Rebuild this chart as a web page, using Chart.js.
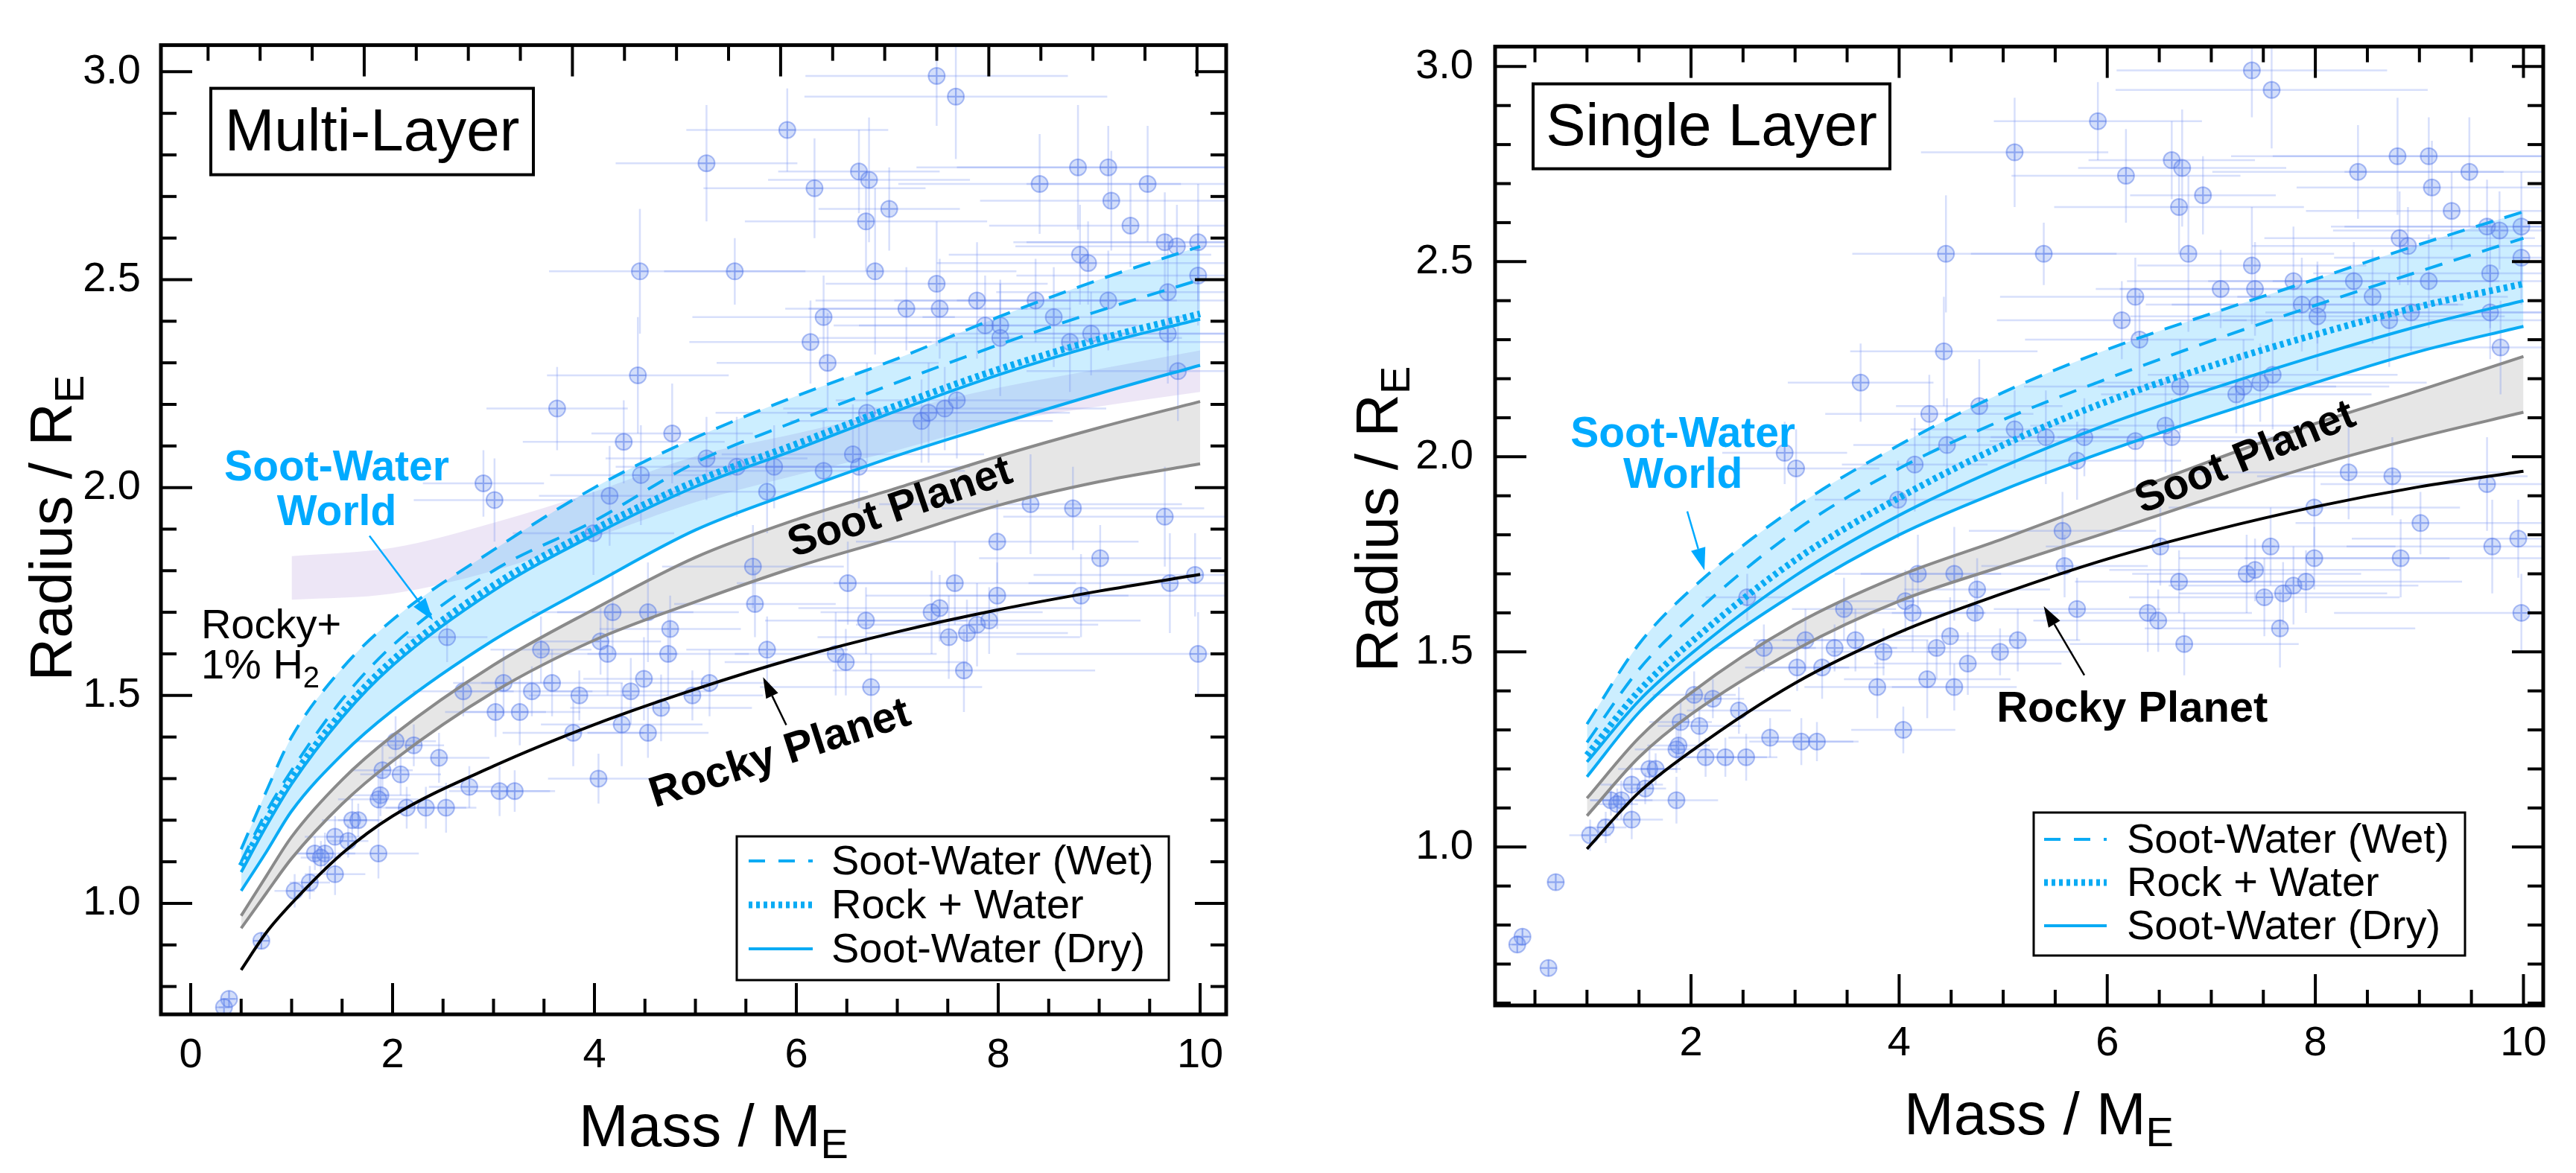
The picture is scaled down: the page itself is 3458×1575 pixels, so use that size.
<!DOCTYPE html>
<html>
<head>
<meta charset="utf-8">
<script src="https://cdn.jsdelivr.net/npm/chart.js@4"></script>
<style>
  html, body { margin: 0; padding: 0; background: #fff; }
  #wrap { position: relative; width: 3458px; height: 1575px; overflow: hidden; }
  #wrap canvas { position: absolute; top: 0; }
</style>
</head>
<body>
<div id="wrap">
  <canvas id="multi" width="1729" height="1575" style="left:0"></canvas>
  <canvas id="single" width="1729" height="1575" style="left:1729px"></canvas>
</div>
<script>
// ---- axes ----
const multiMassRange = [-0.295, 10.258];
const multiTopRange = [0.047, 10.28];     // the mirrored top axis is not quite the same as the bottom one
const multiRadiusRange = [0.733, 3.064];
const singleMassRange = [0.117, 10.19];
const singleRadiusRange = [0.594, 3.051];
const massTicksMulti = [0, 2, 4, 6, 8, 10];
const massTicksSingle = [2, 4, 6, 8, 10];
const radiusTicks = [1.0, 1.5, 2.0, 2.5, 3.0];

// ---- Multi-Layer model curves (mass in M_E, radius in R_E) ----
const mlMass = [0.5, 0.75, 1, 1.5, 2, 3, 4, 5, 6, 7, 8, 9, 10];
const mlRocky = [0.84, 0.93, 1.0, 1.12, 1.21, 1.33, 1.43, 1.515, 1.59, 1.653, 1.706, 1.751, 1.791];
const mlSootUpper = [0.97, 1.066, 1.16, 1.297, 1.403, 1.573, 1.708, 1.832, 1.923, 1.999, 2.075, 2.144, 2.207];
const mlSootLower = [0.94, 1.025, 1.108, 1.239, 1.342, 1.508, 1.633, 1.725, 1.809, 1.881, 1.957, 2.014, 2.057];
const mlDryLower = [1.03, 1.124, 1.222, 1.358, 1.464, 1.633, 1.769, 1.898, 1.991, 2.077, 2.153, 2.226, 2.294];
const mlDryUpper = [1.075, 1.186, 1.287, 1.447, 1.572, 1.752, 1.887, 2.002, 2.092, 2.185, 2.271, 2.344, 2.405];
const mlRockWater = [1.09, 1.20, 1.30, 1.46, 1.585, 1.765, 1.90, 2.015, 2.105, 2.198, 2.284, 2.357, 2.418];
const mlWetLower = [1.10, 1.22, 1.32, 1.49, 1.62, 1.80, 1.92, 2.06, 2.16, 2.253, 2.343, 2.425, 2.50];
const mlWetUpper = [1.13, 1.27, 1.40, 1.565, 1.682, 1.85, 2.0, 2.12, 2.22, 2.31, 2.41, 2.50, 2.58];
const mlH2Mass = [1, 2, 3, 4, 5, 6, 7, 8, 9, 10];
const mlH2Upper = [1.835, 1.855, 1.915, 1.99, 2.075, 2.13, 2.185, 2.24, 2.285, 2.33];
const mlH2Lower = [1.73, 1.745, 1.80, 1.88, 1.965, 2.03, 2.09, 2.155, 2.195, 2.23];

// ---- Single Layer model curves ----
const slMass = [1, 1.5, 2, 3, 4, 5, 6, 7, 8, 9, 10];
const slRocky = [0.995, 1.14, 1.245, 1.42, 1.55, 1.65, 1.738, 1.81, 1.872, 1.923, 1.963];
const slSootUpper = [1.125, 1.28, 1.395, 1.57, 1.695, 1.79, 1.89, 1.99, 2.085, 2.17, 2.257];
const slSootLower = [1.08, 1.23, 1.34, 1.505, 1.63, 1.72, 1.806, 1.895, 1.978, 2.05, 2.114];
const slDryLower = [1.18, 1.345, 1.465, 1.65, 1.80, 1.915, 2.015, 2.105, 2.19, 2.27, 2.334];
const slDryUpper = [1.218, 1.375, 1.495, 1.695, 1.85, 1.975, 2.083, 2.174, 2.258, 2.335, 2.40];
const slRockWater = [1.235, 1.40, 1.525, 1.735, 1.895, 2.03, 2.142, 2.233, 2.313, 2.385, 2.443];
const slWetLower = [1.268, 1.455, 1.59, 1.81, 1.97, 2.095, 2.20, 2.297, 2.388, 2.475, 2.56];
const slWetUpper = [1.315, 1.52, 1.66, 1.87, 2.03, 2.165, 2.275, 2.367, 2.455, 2.544, 2.628];

// ---- observed planets (same set in both panels) ----
const planetMass = [
  7.39, 7.58, 5.91, 5.11, 6.18, 6.62, 6.72, 6.69, 6.92, 8.41, 8.79, 9.09, 9.12, 9.48, 9.31,
  4.45, 5.39, 6.78, 9.65, 9.77, 9.98, 8.81, 8.89, 9.98, 7.39, 7.09, 7.42, 7.79, 8.37, 9.09,
  9.68, 6.27, 7.87, 8.02, 8.55, 8.02, 9.68, 6.14, 8.71, 8.92, 6.31, 9.78, 4.43, 3.63, 6.70,
  7.24, 7.31, 7.47, 7.59, 4.29, 4.77, 4.46, 2.90, 3.01, 4.15, 5.11, 5.41, 5.78, 6.56, 6.62,
  6.27, 5.71, 8.32, 8.74, 9.65, 3.99, 7.99, 9.01, 5.57, 4.18, 4.53, 5.59, 6.51, 7.57, 7.99,
  8.82, 9.70, 9.95, 6.69, 7.34, 7.42, 7.79, 7.91, 7.51, 7.69, 4.75, 4.73, 4.06, 4.13, 3.47,
  5.71, 6.39, 6.49, 7.66, 6.74, 9.98, 2.54, 2.70, 3.10, 3.38, 3.58, 4.36, 4.49, 4.66, 4.97,
  5.14, 3.85, 3.02, 3.26, 3.79, 4.27, 4.53, 4.04, 2.76, 3.06, 3.21, 2.03, 2.21, 1.90, 2.08,
  2.46, 1.88, 1.86, 2.14, 2.33, 2.53, 1.60, 1.66, 1.43, 1.56, 1.23, 1.33, 1.29, 1.43, 1.86,
  1.03, 1.18, 0.70, 0.38, 0.33, 0.63
];
const planetRadius = [
  2.99, 2.94, 2.86, 2.78, 2.72, 2.76, 2.74, 2.64, 2.67, 2.73, 2.77, 2.77, 2.69, 2.73, 2.63,
  2.52, 2.52, 2.52, 2.59, 2.58, 2.59, 2.56, 2.54, 2.51, 2.49, 2.43, 2.43, 2.45, 2.45, 2.45,
  2.47, 2.41, 2.39, 2.39, 2.41, 2.36, 2.37, 2.35, 2.35, 2.37, 2.30, 2.28, 2.27, 2.19, 2.18,
  2.16, 2.18, 2.19, 2.21, 2.11, 2.13, 2.03, 2.01, 1.97, 1.98, 2.07, 2.05, 2.05, 2.08, 2.05,
  2.04, 1.99, 1.96, 1.95, 1.93, 1.89, 1.87, 1.83, 1.81, 1.70, 1.70, 1.72, 1.77, 1.77, 1.74,
  1.74, 1.77, 1.79, 1.68, 1.70, 1.71, 1.67, 1.68, 1.64, 1.65, 1.66, 1.60, 1.63, 1.60, 1.61,
  1.61, 1.60, 1.58, 1.56, 1.52, 1.60, 1.64, 1.51, 1.53, 1.51, 1.53, 1.51, 1.54, 1.47, 1.50,
  1.53, 1.50, 1.46, 1.46, 1.41, 1.43, 1.41, 1.30, 1.28, 1.27, 1.27, 1.39, 1.38, 1.32, 1.31,
  1.35, 1.26, 1.25, 1.23, 1.23, 1.23, 1.20, 1.20, 1.16, 1.15, 1.12, 1.12, 1.11, 1.07, 1.12,
  1.03, 1.05, 0.91, 0.77, 0.75, 0.69
];
const planetMassErr = [
  1.3, 1.5, 1.0, 0.9, 1.1, 0.8, 1.0, 1.2, 0.7, 1.4, 1.6, 1.5, 1.3, 1.2, 1.4,
  0.9, 0.7, 1.4, 1.5, 1.6, 1.7, 1.3, 1.5, 1.8, 1.1, 1.2, 1.3, 1.6, 1.4, 1.5,
  1.7, 1.3, 1.5, 1.4, 1.3, 1.8, 1.6, 1.2, 1.6, 1.4, 1.1, 1.5, 0.9, 0.7, 1.5,
  1.3, 1.4, 1.6, 1.2, 1.0, 0.8, 0.9, 0.6, 0.8, 0.7, 1.0, 1.2, 0.9, 1.3, 1.1,
  1.4, 1.0, 1.5, 1.3, 1.6, 0.8, 1.4, 1.2, 0.9, 0.8, 0.9, 0.8, 1.1, 1.2, 1.3,
  1.5, 1.4, 1.6, 1.0, 1.1, 1.4, 1.2, 1.5, 1.3, 1.0, 0.7, 0.8, 0.6, 0.7, 0.5,
  0.8, 1.0, 1.2, 1.3, 1.1, 1.8, 0.4, 0.5, 0.5, 0.6, 0.7, 0.8, 0.6, 0.9, 0.7,
  0.6, 0.5, 0.5, 0.6, 0.7, 0.8, 0.6, 0.5, 0.4, 0.5, 0.4, 0.4, 0.3, 0.3, 0.4,
  0.5, 0.3, 0.4, 0.3, 0.4, 0.3, 0.3, 0.2, 0.3, 0.2, 0.2, 0.3, 0.2, 0.3, 0.4,
  0.2, 0.2, 0.08, 0.06, 0.05, 0.08
];
const planetRadiusErr = [
  0.12, 0.15, 0.10, 0.14, 0.12, 0.10, 0.15, 0.12, 0.10, 0.12, 0.15, 0.10, 0.12, 0.14, 0.10,
  0.15, 0.08, 0.20, 0.12, 0.10, 0.14, 0.12, 0.10, 0.12, 0.15, 0.10, 0.12, 0.14, 0.10, 0.12,
  0.14, 0.10, 0.12, 0.10, 0.12, 0.14, 0.12, 0.10, 0.12, 0.10, 0.12, 0.12, 0.14, 0.10, 0.12,
  0.10, 0.12, 0.10, 0.14, 0.10, 0.12, 0.12, 0.08, 0.10, 0.12, 0.10, 0.12, 0.10, 0.12, 0.10,
  0.12, 0.10, 0.12, 0.10, 0.12, 0.10, 0.10, 0.08, 0.10, 0.10, 0.12, 0.08, 0.10, 0.10, 0.08,
  0.10, 0.12, 0.10, 0.08, 0.10, 0.08, 0.10, 0.08, 0.10, 0.08, 0.08, 0.10, 0.08, 0.10, 0.08,
  0.08, 0.10, 0.08, 0.10, 0.08, 0.10, 0.06, 0.06, 0.08, 0.06, 0.08, 0.08, 0.10, 0.08, 0.06,
  0.08, 0.06, 0.06, 0.08, 0.08, 0.10, 0.06, 0.06, 0.05, 0.06, 0.05, 0.06, 0.05, 0.06, 0.05,
  0.06, 0.05, 0.06, 0.05, 0.05, 0.06, 0.05, 0.04, 0.05, 0.04, 0.04, 0.05, 0.04, 0.05, 0.06,
  0.04, 0.04, 0.02, 0.02, 0.02, 0.02
];

const FONT = '"Liberation Sans", Arial, Helvetica, sans-serif';
const BLUE = '#0AABF4';
const LABEL_BLUE = '#00AAFF';
const GRAY = '#8a8a8a';

const legendRows = [
  { text: 'Soot-Water (Wet)', dash: [22, 18], width: 4 },
  { text: 'Rock + Water', dash: [5, 5], width: 9 },
  { text: 'Soot-Water (Dry)', dash: [], width: 4 }
];

// layout of each panel, in canvas pixels or in data units (m, r)
const panels = {
  multi: {
    area: { left: 216, top: 42, right: 1646, bottom: 1362 },
    massRange: multiMassRange, topRange: multiTopRange, radiusRange: multiRadiusRange,
    massTicks: massTicksMulti, tickPad: { x: 22, y: 27 },
    title: 'Multi-Layer', titleBox: { dx: 67, dy: 58, w: 433, h: 116 },
    yTitle: { x: 96, y: 709 }, xTitle: { x: 958, y: 1539 },
    worldLabel: { m: 1.447, r1: 2.017, r2: 1.909 }, worldArrow: [1.771, 1.884, 2.40, 1.681],
    h2Label: { m: 0.103, r1: 1.637, r2: 1.540 },
    sootLabel: { m: 7.03, r: 1.95, angle: -18.9 },
    rockyLabel: { m: 5.84, r: 1.358, angle: -18 },
    rockyArrow: [5.90, 1.429, 5.67, 1.544],
    legend: { dr: 77, db: 46, w: 580, h: 193, rows: [51, 110, 169], textX: 127, line: [16, 102] }
  },
  single: {
    area: { left: 278, top: 48, right: 1685, bottom: 1350 },
    massRange: singleMassRange, topRange: singleMassRange, radiusRange: singleRadiusRange,
    massTicks: massTicksSingle, tickPad: { x: 18, y: 29 },
    title: 'Single Layer', titleBox: { dx: 51, dy: 50, w: 479, h: 114 },
    yTitle: { x: 147, y: 697 }, xTitle: { x: 1008, y: 1523 },
    worldLabel: { m: 1.922, r1: 2.026, r2: 1.921 }, worldArrow: [1.964, 1.860, 2.129, 1.709],
    h2Label: null,
    sootLabel: { m: 7.33, r: 1.996, angle: -22.5 },
    rockyLabel: { m: 6.24, r: 1.351, angle: 0 },
    rockyArrow: [5.78, 1.44, 5.39, 1.617],
    legend: { dr: 105, db: 67, w: 579, h: 192, rows: [54, 112, 170], textX: 125, line: [14, 98] }
  }
};

function pts(xs, ys) {
  return xs.map((x, i) => ({ x: x, y: ys[i] }));
}

function buildDatasets(c) {
  const ds = [];
  const add = (d) => { ds.push(Object.assign({
    type: 'line', pointRadius: 0, fill: false, borderWidth: 4, clip: 0,
    cubicInterpolationMode: 'monotone', order: 2
  }, d)); return ds.length - 1; };

  if (c.h2Mass) {
    const lo = add({ data: pts(c.h2Mass, c.h2Lower), borderWidth: 0, borderColor: 'rgba(0,0,0,0)', order: 9 });
    add({ data: pts(c.h2Mass, c.h2Upper), borderWidth: 0, borderColor: 'rgba(0,0,0,0)',
          fill: { target: lo }, backgroundColor: 'rgba(175,140,215,0.22)', order: 9 });
  }
  const sootLo = add({ data: pts(c.mass, c.sootLower), borderColor: GRAY });
  add({ data: pts(c.mass, c.sootUpper), borderColor: GRAY, fill: { target: sootLo }, backgroundColor: '#e6e6e6' });
  const dryLo = add({ data: pts(c.mass, c.dryLower), borderColor: BLUE });
  add({ data: pts(c.mass, c.dryUpper), borderColor: BLUE });
  add({ data: pts(c.mass, c.rockWater), borderColor: BLUE, borderWidth: 9, borderDash: [5, 5], borderCapStyle: 'butt' });
  add({ data: pts(c.mass, c.wetLower), borderColor: BLUE, borderDash: [24, 16] });
  add({ data: pts(c.mass, c.wetUpper), borderColor: BLUE, borderDash: [24, 16],
        fill: { target: dryLo }, backgroundColor: 'rgba(0,170,255,0.2)' });
  add({ data: pts(c.mass, c.rocky), borderColor: '#000' });

  const planets = pts(planetMass, planetRadius);
  ds.push({ type: 'scatter', data: planets, pointStyle: 'circle', pointRadius: 11,
            backgroundColor: 'rgba(110,145,238,0.3)', borderColor: 'rgba(80,115,230,0.45)',
            borderWidth: 2, clip: 0, order: 5 });
  ds.push({ type: 'scatter', data: planets, pointStyle: 'cross', pointRadius: 11,
            borderColor: 'rgba(80,115,230,0.45)', borderWidth: 2, clip: 0, order: 5 });
  return ds;
}

// ---- drawing helpers ----
function setFont(ctx, size, bold) {
  ctx.font = (bold ? 'bold ' : '') + size + 'px ' + FONT;
}

function textWithSub(ctx, main, sub, x, y, size, subSize, drop, align) {
  setFont(ctx, size);
  const w1 = ctx.measureText(main).width;
  setFont(ctx, subSize);
  const w2 = ctx.measureText(sub).width;
  const x0 = align === 'center' ? x - (w1 + w2) / 2 : x;
  ctx.textAlign = 'left';
  ctx.textBaseline = 'alphabetic';
  setFont(ctx, size);
  ctx.fillText(main, x0, y);
  setFont(ctx, subSize);
  ctx.fillText(sub, x0 + w1, y + drop);
}

function arrow(ctx, x1, y1, x2, y2, color, lw, headLen, headW) {
  const a = Math.atan2(y2 - y1, x2 - x1);
  const bx = x2 - headLen * Math.cos(a), by = y2 - headLen * Math.sin(a);
  ctx.save();
  ctx.strokeStyle = color; ctx.fillStyle = color; ctx.lineWidth = lw; ctx.setLineDash([]);
  ctx.beginPath(); ctx.moveTo(x1, y1); ctx.lineTo(bx, by); ctx.stroke();
  ctx.beginPath();
  ctx.moveTo(x2, y2);
  ctx.lineTo(bx + headW / 2 * Math.sin(a), by - headW / 2 * Math.cos(a));
  ctx.lineTo(bx - headW / 2 * Math.sin(a), by + headW / 2 * Math.cos(a));
  ctx.closePath(); ctx.fill();
  ctx.restore();
}

function tickValues(min, max, step) {
  const out = [];
  for (let v = Math.ceil(min / step - 1e-9) * step; v <= max + 1e-9; v += step) out.push(Math.round(v * 1000) / 1000);
  return out;
}

function drawTicks(ctx, scale, area, side, majors, minorStep) {
  const minors = tickValues(scale.min, scale.max, minorStep).filter(v => !majors.some(m => Math.abs(m - v) < 1e-6));
  const draw = (v, len) => {
    const p = scale.getPixelForValue(v);
    ctx.beginPath();
    if (side === 'bottom') { ctx.moveTo(p, area.bottom); ctx.lineTo(p, area.bottom - len); }
    if (side === 'top') { ctx.moveTo(p, area.top); ctx.lineTo(p, area.top + len); }
    if (side === 'left') { ctx.moveTo(area.left, p); ctx.lineTo(area.left + len, p); }
    if (side === 'right') { ctx.moveTo(area.right, p); ctx.lineTo(area.right - len, p); }
    ctx.stroke();
  };
  majors.filter(v => v >= scale.min && v <= scale.max).forEach(v => draw(v, 42));
  minors.forEach(v => draw(v, 21));
}

const decor = {
  id: 'decor',
  beforeDatasetsDraw(chart) {
    // error bars under the markers
    const ctx = chart.ctx, xs = chart.scales.x, ys = chart.scales.y, a = chart.chartArea;
    ctx.save();
    ctx.beginPath(); ctx.rect(a.left, a.top, a.right - a.left, a.bottom - a.top); ctx.clip();
    ctx.strokeStyle = 'rgba(110,140,240,0.28)';
    ctx.lineWidth = 2.5;
    planetMass.forEach((m, i) => {
      const r = planetRadius[i];
      const px = xs.getPixelForValue(m), py = ys.getPixelForValue(r);
      ctx.beginPath();
      ctx.moveTo(xs.getPixelForValue(m - planetMassErr[i]), py);
      ctx.lineTo(xs.getPixelForValue(m + planetMassErr[i]), py);
      ctx.moveTo(px, ys.getPixelForValue(r - planetRadiusErr[i]));
      ctx.lineTo(px, ys.getPixelForValue(r + planetRadiusErr[i]));
      ctx.stroke();
    });
    ctx.restore();
  },
  afterDraw(chart) {
    const p = panels[chart.canvas.id];
    const ctx = chart.ctx, a = chart.chartArea;
    const xs = chart.scales.x, xt = chart.scales.xTop, ys = chart.scales.y;
    const X = (m) => xs.getPixelForValue(m), Y = (r) => ys.getPixelForValue(r);
    ctx.save();
    ctx.fillStyle = '#000'; ctx.strokeStyle = '#000';

    // frame and inward ticks
    ctx.lineWidth = 4;
    drawTicks(ctx, xs, a, 'bottom', p.massTicks, 0.5);
    drawTicks(ctx, xt, a, 'top', massTicksMulti, 0.5);
    drawTicks(ctx, ys, a, 'left', radiusTicks, 0.1);
    drawTicks(ctx, ys, a, 'right', radiusTicks, 0.1);
    ctx.lineWidth = 5;
    ctx.strokeRect(a.left, a.top, a.right - a.left, a.bottom - a.top);

    // axis titles
    textWithSub(ctx, 'Mass / M', 'E', p.xTitle.x, p.xTitle.y, 80, 56, 16, 'center');
    ctx.save();
    ctx.translate(p.yTitle.x, p.yTitle.y);
    ctx.rotate(-Math.PI / 2);
    textWithSub(ctx, 'Radius / R', 'E', 0, 0, 80, 56, 16, 'center');
    ctx.restore();

    // panel title box
    const tb = p.titleBox;
    ctx.lineWidth = 4;
    ctx.fillStyle = '#fff';
    ctx.fillRect(a.left + tb.dx, a.top + tb.dy, tb.w, tb.h);
    ctx.strokeRect(a.left + tb.dx, a.top + tb.dy, tb.w, tb.h);
    ctx.fillStyle = '#000';
    setFont(ctx, 80);
    ctx.textAlign = 'center'; ctx.textBaseline = 'middle';
    ctx.fillText(p.title, a.left + tb.dx + tb.w / 2, a.top + tb.dy + tb.h / 2 + 3);

    // Soot-Water World label and arrow
    ctx.fillStyle = LABEL_BLUE;
    setFont(ctx, 57, true);
    ctx.textAlign = 'center'; ctx.textBaseline = 'alphabetic';
    ctx.fillText('Soot-Water', X(p.worldLabel.m), Y(p.worldLabel.r1));
    ctx.fillText('World', X(p.worldLabel.m), Y(p.worldLabel.r2));
    const wa = p.worldArrow;
    arrow(ctx, X(wa[0]), Y(wa[1]), X(wa[2]), Y(wa[3]), LABEL_BLUE, 2.5, 30, 20);

    // Rocky + 1% H2 label
    ctx.fillStyle = '#000';
    if (p.h2Label) {
      setFont(ctx, 56);
      ctx.textAlign = 'left';
      ctx.fillText('Rocky+', X(p.h2Label.m), Y(p.h2Label.r1));
      textWithSub(ctx, '1% H', '2', X(p.h2Label.m), Y(p.h2Label.r2), 56, 40, 12, 'left');
    }

    // Soot Planet / Rocky Planet labels
    [[p.sootLabel, 'Soot Planet', 57], [p.rockyLabel, 'Rocky Planet', 58]].forEach(([l, txt, size]) => {
      ctx.save();
      ctx.translate(X(l.m), Y(l.r));
      ctx.rotate(l.angle * Math.PI / 180);
      setFont(ctx, size, true);
      ctx.textAlign = 'center'; ctx.textBaseline = 'middle';
      ctx.fillText(txt, 0, 0);
      ctx.restore();
    });
    const ra = p.rockyArrow;
    arrow(ctx, X(ra[0]), Y(ra[1]), X(ra[2]), Y(ra[3]), '#000', 2.5, 28, 18);

    // legend
    const lg = p.legend;
    const lx = a.right - lg.dr - lg.w, ly = a.bottom - lg.db - lg.h;
    ctx.fillStyle = '#fff';
    ctx.fillRect(lx, ly, lg.w, lg.h);
    ctx.lineWidth = 3; ctx.strokeStyle = '#000';
    ctx.strokeRect(lx, ly, lg.w, lg.h);
    legendRows.forEach((row, i) => {
      const by = ly + lg.rows[i];
      ctx.save();
      ctx.strokeStyle = BLUE; ctx.lineWidth = row.width; ctx.setLineDash(row.dash); ctx.lineCap = 'butt';
      ctx.beginPath(); ctx.moveTo(lx + lg.line[0], by - 18); ctx.lineTo(lx + lg.line[1], by - 18); ctx.stroke();
      ctx.restore();
      ctx.fillStyle = '#000';
      setFont(ctx, 56);
      ctx.textAlign = 'left'; ctx.textBaseline = 'alphabetic';
      ctx.fillText(row.text, lx + lg.textX, by);
    });
    ctx.restore();
  }
};

Chart.defaults.font.family = FONT;
Chart.defaults.color = '#000';

function makeChart(id, curves) {
  const p = panels[id];
  const canvas = document.getElementById(id);
  const W = canvas.width, H = canvas.height;
  return new Chart(canvas, {
    type: 'line',
    data: { datasets: buildDatasets(curves) },
    options: {
      responsive: false,
      animation: false,
      devicePixelRatio: 1,
      events: [],
      layout: { padding: { left: 0, top: p.area.top, right: W - p.area.right, bottom: 0 } },
      plugins: {
        legend: { display: false },
        tooltip: { enabled: false },
        filler: { drawTime: 'beforeDatasetsDraw' }
      },
      scales: {
        x: {
          type: 'linear', position: 'bottom', min: p.massRange[0], max: p.massRange[1],
          afterFit: (s) => { s.height = H - p.area.bottom; },
          afterBuildTicks: (s) => { s.ticks = p.massTicks.map(v => ({ value: v })); },
          ticks: { font: { size: 56 }, color: '#000', padding: p.tickPad.x, autoSkip: false,
                   maxRotation: 0, minRotation: 0, callback: (v) => String(v) },
          grid: { display: false, drawTicks: false, tickLength: 0 },
          border: { display: false }
        },
        xTop: {
          type: 'linear', position: 'top', display: false, min: p.topRange[0], max: p.topRange[1]
        },
        y: {
          type: 'linear', position: 'left', min: p.radiusRange[0], max: p.radiusRange[1],
          afterFit: (s) => { s.width = p.area.left; },
          afterBuildTicks: (s) => { s.ticks = radiusTicks.map(v => ({ value: v })); },
          ticks: { font: { size: 56 }, color: '#000', padding: p.tickPad.y, autoSkip: false,
                   callback: (v) => Number(v).toFixed(1) },
          grid: { display: false, drawTicks: false, tickLength: 0 },
          border: { display: false }
        }
      }
    },
    plugins: [decor]
  });
}

makeChart('multi', {
  mass: mlMass, rocky: mlRocky, sootUpper: mlSootUpper, sootLower: mlSootLower,
  dryLower: mlDryLower, dryUpper: mlDryUpper, rockWater: mlRockWater,
  wetLower: mlWetLower, wetUpper: mlWetUpper,
  h2Mass: mlH2Mass, h2Upper: mlH2Upper, h2Lower: mlH2Lower
});
makeChart('single', {
  mass: slMass, rocky: slRocky, sootUpper: slSootUpper, sootLower: slSootLower,
  dryLower: slDryLower, dryUpper: slDryUpper, rockWater: slRockWater,
  wetLower: slWetLower, wetUpper: slWetUpper
});
</script>
</body>
</html>
